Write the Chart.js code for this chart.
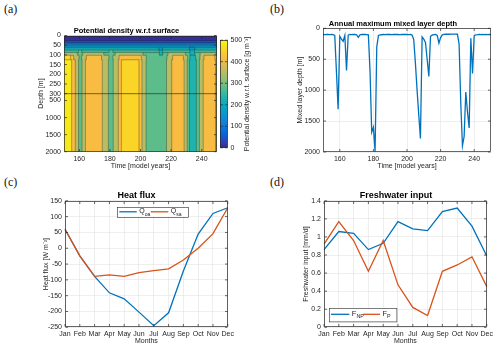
<!DOCTYPE html>
<html>
<head>
<meta charset="utf-8">
<title>Convection diagnostics</title>
<script src="https://cdn.jsdelivr.net/npm/chart.js@4.4.1/dist/chart.umd.min.js"></script>
<style>
  body { margin: 0; background: #fff; }
  #page { position: relative; width: 500px; height: 348px; overflow: hidden; }
  canvas { position: absolute; }
  .panel { position: absolute; font-family: "Liberation Serif", "DejaVu Serif", serif; font-size: 12px; color: #111; }
</style>
</head>
<body>
<div id="page">
  <div class="panel" style="left:4px;top:2px">(a)</div>
  <div class="panel" style="left:270px;top:2px">(b)</div>
  <div class="panel" style="left:4px;top:175px">(c)</div>
  <div class="panel" style="left:270px;top:175px">(d)</div>
  <canvas id="densChart" width="186" height="151" style="left:36px;top:20px"></canvas>
  <canvas id="cbarChart" width="40" height="122" style="left:218px;top:33px"></canvas>
  <canvas id="mldChart" width="200" height="156" style="left:295px;top:15px"></canvas>
  <canvas id="heatChart" width="196" height="161" style="left:41px;top:185px"></canvas>
  <canvas id="fwChart" width="195" height="161" style="left:301px;top:185px"></canvas>
</div>
<script>
// ---- (a) potential density, one row per depth layer ----
// each row is a list of [start year, density g/m3], value holds until next start
const yearMin = 150, yearMax = 250;
const yearTicks = [160, 180, 200, 220, 240];
const depthEdges = [0, 26, 36, 45, 54, 63, 75, 88, 102, 125, 2000];
const depthTicks = [0, 50, 100, 150, 200, 250, 300, 500, 1000, 1500, 2000];
const dens0 = [[150, 8]];
const dens1 = [[150, 35]];
const dens2 = [[150, 80]];
const dens3 = [[150, 130]];
const dens4 = [[150, 175], [232.5, 150], [234.5, 175]];
const dens5 = [[150, 215], [212, 180], [214.5, 215], [232, 180], [235.5, 215]];
const dens6 = [[150, 250], [159.5, 280], [161.5, 250], [179.5, 280], [182, 250], [212.3, 215], [214.3, 250], [232.3, 215], [235.3, 250]];
const dens7 = [[150, 350], [158.7, 280], [162.3, 350], [176, 280], [183.5, 350], [201.5, 280], [212.3, 215], [214.5, 280], [218, 350], [229.3, 280], [232.3, 215], [235.5, 280], [239, 350], [249.3, 280]];
const dens8 = [[150, 455], [154.3, 415], [156.3, 350], [159.8, 280], [161.5, 350], [164.6, 415], [174.5, 350], [179.3, 280], [182, 350], [186, 415], [200.5, 350], [203.8, 280], [217.3, 350], [221, 415], [228, 350], [230.8, 280], [232.3, 230], [236, 280], [238.8, 350], [241.5, 415], [248.6, 350]];
const dens9 = [[150, 480], [155, 415], [157.4, 350], [159.5, 280], [161.8, 350], [164, 415], [175, 350], [179, 280], [182.2, 350], [185.5, 415], [187.5, 455], [199, 415], [201, 350], [203.6, 280], [217, 350], [220.4, 415], [228.5, 350], [230.5, 280], [232, 230], [236.5, 280], [238.5, 350], [241, 415], [249, 350]];
const densRows = [dens0, dens1, dens2, dens3, dens4, dens5, dens6, dens7, dens8, dens9];

// ---- (b) annual maximum mixed layer depth, years 150..250 ----
const mldYear0 = 150;
const mld = [100, 101, 100, 99, 101, 100, 102, 115, 700, 1310,
             130, 175, 210, 115, 680, 110, 100, 101, 100, 100,
             104, 145, 106, 100, 99, 100, 101, 105, 700, 1680,
             1600, 1990, 300, 115, 108, 104, 100, 101, 100, 99,
             100, 102, 100, 100, 98, 100, 101, 100, 99, 100,
             100, 101, 100, 110, 180, 560, 1000, 1400, 1780, 140,
             175, 230, 500, 780, 130, 110, 102, 100, 115, 240,
             150, 105, 98, 96, 95, 96, 94, 95, 93, 95,
             96, 250, 1200, 1900, 1750, 1030, 1350, 1610, 160, 730,
             120, 105, 103, 100, 102, 99, 101, 100, 103, 100, 102];

// ---- (c) heat flux, (d) freshwater input ----
const months = ['Jan', 'Feb', 'Mar', 'Apr', 'May', 'Jun', 'Jul', 'Aug', 'Sep', 'Oct', 'Nov', 'Dec'];
const qOA = [60, -24, -89, -141, -160, -202, -245, -204, -72, 45, 110, 128];
const qSA = [60, -24, -89, -84, -89, -77, -71, -65, -37, 0, 46, 128];
const fNP = [0.86, 1.06, 1.04, 0.86, 0.93, 1.17, 1.09, 1.07, 1.28, 1.32, 1.12, 0.79];
const fP = [0.92, 1.17, 0.96, 0.62, 0.96, 0.47, 0.22, 0.13, 0.62, 0.69, 0.78, 0.45];

const FONT = '"Liberation Sans", Arial, Helvetica, sans-serif';
const INK = '#262626';
const GRID = '#e2e2e2';
const BLUE = '#0072BD', ORANGE = '#D95319';

Chart.defaults.font.family = FONT;
Chart.defaults.font.size = 7;
Chart.defaults.color = INK;
Chart.defaults.animation = false;
Chart.defaults.responsive = false;
Chart.defaults.maintainAspectRatio = false;
Chart.defaults.plugins.legend.display = false;
Chart.defaults.plugins.tooltip.enabled = false;
Chart.defaults.events = [];

// parula colour map (MATLAB), rows 0,4,...,60,63 of the 64 entry table
const parulaIdx = [0, 4, 8, 12, 16, 20, 24, 28, 32, 36, 40, 44, 48, 52, 56, 60, 63];
const parulaRgb = [[53,42,135],[50,67,186],[3,99,225],[13,117,220],[20,133,212],[9,152,209],[6,167,198],[21,177,180],[56,185,158],[101,190,134],[146,191,115],[183,189,100],[217,186,86],[248,187,68],[252,206,46],[245,228,29],[249,251,14]];
function parula(t) {
  t = Math.max(0, Math.min(1, t)) * 63;
  let k = 0;
  while (k < parulaIdx.length - 2 && t > parulaIdx[k + 1]) k++;
  const f = (t - parulaIdx[k]) / (parulaIdx[k + 1] - parulaIdx[k]);
  const a = parulaRgb[k], b = parulaRgb[k + 1];
  return 'rgb(' + a.map((c, j) => Math.round(c + (b[j] - c) * f)).join(',') + ')';
}
const densMax = 500;

// depth axis: 0-300 m stretched, 300-2000 m compressed
const deepScale = 0.176;
function depthDisp(d) { return d <= 300 ? d : 300 + (d - 300) * deepScale; }

function valAt(segs, yr) {
  let v = segs[0][1];
  for (const s of segs) if (s[0] <= yr) v = s[1];
  return v;
}

const fixW = w => s => { s.width = w; };
const fixH = h => s => { s.height = h; };
const noGrid = { display: false, drawTicks: false };
const lightGrid = { color: GRID, lineWidth: 0.6, drawTicks: false };

function titleOpt(text, size) {
  return { display: true, text: text, color: '#000', font: { size: size, weight: 'bold', lineHeight: 1 }, padding: { top: 0, bottom: 1 } };
}
function axTitle(text) {
  return { display: true, text: text, font: { size: 7, lineHeight: 1.2 }, padding: { top: 1, bottom: 1.1 } };
}

// matlab style box with inward ticks
const frame = {
  id: 'frame',
  afterDraw(chart) {
    const { ctx, chartArea: a } = chart;
    const L = Math.round(a.left) + 0.5, R = Math.round(a.right) - 0.5;
    const T = Math.round(a.top) + 0.5, B = Math.round(a.bottom) - 0.5;
    const sx = chart.scales.x, sy = chart.scales.y;
    ctx.save();
    ctx.strokeStyle = INK;
    ctx.lineWidth = 0.7;
    ctx.beginPath();
    if (sx && sx.options.display !== false) {
      sx.ticks.forEach((t, i) => {
        const p = sx.getPixelForTick(i);
        ctx.moveTo(p, B); ctx.lineTo(p, B - 2.5);
        ctx.moveTo(p, T); ctx.lineTo(p, T + 2.5);
      });
    }
    if (sy) {
      sy.ticks.forEach((t, i) => {
        const p = sy.getPixelForTick(i);
        ctx.moveTo(L, p); ctx.lineTo(L + 2.5, p);
        ctx.moveTo(R, p); ctx.lineTo(R - 2.5, p);
      });
    }
    ctx.stroke();
    ctx.strokeRect(L, T, R - L, B - T);
    ctx.restore();
  }
};

// filled density layers + contour lines where the value changes
const densityCells = {
  id: 'densityCells',
  beforeDatasetsDraw(chart) {
    const { ctx, chartArea: a, scales: { x, y } } = chart;
    const yPx = d => y.getPixelForValue(depthDisp(d));
    ctx.save();
    ctx.beginPath();
    ctx.rect(a.left, a.top, a.right - a.left, a.bottom - a.top);
    ctx.clip();
    densRows.forEach((segs, r) => {
      const y0 = yPx(depthEdges[r]), y1 = yPx(depthEdges[r + 1]);
      segs.forEach((s, i) => {
        const x0 = x.getPixelForValue(s[0]);
        const x1 = x.getPixelForValue(i + 1 < segs.length ? segs[i + 1][0] : yearMax);
        ctx.fillStyle = parula(s[1] / densMax);
        ctx.fillRect(x0, y0, x1 - x0 + 0.6, y1 - y0 + 0.6);
      });
    });
    ctx.strokeStyle = 'rgba(25,25,25,0.55)';
    ctx.lineWidth = 0.6;
    ctx.beginPath();
    densRows.forEach((segs, r) => {
      const y0 = yPx(depthEdges[r]), y1 = yPx(depthEdges[r + 1]);
      for (let i = 1; i < segs.length; i++) {
        if (segs[i][1] !== segs[i - 1][1]) {
          const px = x.getPixelForValue(segs[i][0]);
          ctx.moveTo(px, y0); ctx.lineTo(px, y1);
        }
      }
      if (r + 1 < densRows.length) {
        const next = densRows[r + 1];
        const cuts = segs.map(s => s[0]).concat(next.map(s => s[0]), [yearMax]);
        cuts.sort((p, q) => p - q);
        const yy = yPx(depthEdges[r + 1]);
        for (let i = 0; i + 1 < cuts.length; i++) {
          const mid = (cuts[i] + cuts[i + 1]) / 2;
          if (cuts[i + 1] > cuts[i] && valAt(segs, mid) !== valAt(next, mid)) {
            ctx.moveTo(x.getPixelForValue(cuts[i]), yy);
            ctx.lineTo(x.getPixelForValue(cuts[i + 1]), yy);
          }
        }
      }
    });
    ctx.stroke();
    // break between the two depth ranges
    ctx.strokeStyle = 'rgba(40,40,40,0.8)';
    ctx.lineWidth = 0.8;
    ctx.beginPath();
    ctx.moveTo(a.left, yPx(300)); ctx.lineTo(a.right, yPx(300));
    ctx.stroke();
    ctx.restore();
  }
};

const colorbar = {
  id: 'colorbar',
  beforeDatasetsDraw(chart) {
    const { ctx, chartArea: a, scales: { y } } = chart;
    const g = ctx.createLinearGradient(0, y.getPixelForValue(0), 0, y.getPixelForValue(densMax));
    for (let k = 0; k <= 20; k++) g.addColorStop(k / 20, parula(k / 20));
    ctx.save();
    ctx.fillStyle = g;
    ctx.fillRect(a.left, a.top, a.right - a.left, a.bottom - a.top);
    ctx.translate(a.right + 20, (a.top + a.bottom) / 2);
    ctx.rotate(-Math.PI / 2);
    ctx.fillStyle = INK;
    ctx.font = '7px ' + FONT;
    ctx.textAlign = 'center';
    ctx.textBaseline = 'middle';
    ctx.fillText('Potential density w.r.t. surface [g m\u207B\u00B3]', 0, 0);
    ctx.restore();
  }
};

// legend with subscripted labels ("Q_oa" -> Q + subscript oa)
const subLegend = {
  id: 'subLegend',
  afterDraw(chart, args, o) {
    const { ctx, chartArea: a } = chart;
    const x0 = a.left + o.dx;
    const y0 = o.fromBottom ? a.bottom - o.dy - o.h : a.top + o.dy;
    const cy = y0 + o.h / 2;
    ctx.save();
    ctx.fillStyle = '#fff';
    ctx.fillRect(x0, y0, o.w, o.h);
    ctx.strokeStyle = INK;
    ctx.lineWidth = 0.6;
    ctx.strokeRect(Math.round(x0) + 0.5, Math.round(y0) + 0.5, o.w, o.h);
    chart.data.datasets.forEach((ds, k) => {
      const pos = o.pos[k];
      const parts = ds.label.split('_');
      ctx.strokeStyle = ds.borderColor;
      ctx.lineWidth = ds.borderWidth;
      ctx.beginPath();
      ctx.moveTo(x0 + pos[0], cy); ctx.lineTo(x0 + pos[1], cy);
      ctx.stroke();
      ctx.fillStyle = INK;
      ctx.textBaseline = 'middle';
      ctx.font = o.size + 'px ' + FONT;
      const tx = x0 + pos[1] + 2.5;
      ctx.fillText(parts[0], tx, cy - 0.5);
      const w = ctx.measureText(parts[0]).width;
      ctx.font = (o.size * 0.72) + 'px ' + FONT;
      ctx.fillText(parts[1], tx + w, cy + o.size * 0.35);
    });
    ctx.restore();
  }
};

const yearAxis = {
  type: 'linear', min: yearMin, max: yearMax,
  afterBuildTicks: s => { s.ticks = yearTicks.map(v => ({ value: v })); },
  ticks: { padding: 3 },
  border: { display: false },
  title: axTitle('Time [model years]')
};

new Chart(document.getElementById('densChart'), {
  type: 'scatter',
  data: { datasets: [] },
  options: {
    layout: { padding: { left: 0, right: 5, top: 7, bottom: 0 } },
    plugins: { title: titleOpt('Potential density w.r.t surface', 7.5) },
    scales: {
      x: Object.assign({}, yearAxis, { grid: noGrid, afterFit: fixH(19.3) }),
      y: {
        type: 'linear', reverse: true, min: 0, max: depthDisp(2000),
        afterBuildTicks: s => { s.ticks = depthTicks.map(d => ({ value: depthDisp(d) })); },
        ticks: { autoSkip: false, padding: 3, callback: (v, i) => String(depthTicks[i]) },
        grid: noGrid,
        border: { display: false },
        title: axTitle('Depth [m]'),
        afterFit: fixW(28)
      }
    }
  },
  plugins: [densityCells, frame]
});

new Chart(document.getElementById('cbarChart'), {
  type: 'scatter',
  data: { datasets: [] },
  options: {
    layout: { padding: { left: 2, right: 0, top: 2.5, bottom: 3.3 } },
    scales: {
      x: { display: false, min: 0, max: 1 },
      y: {
        position: 'right', min: 0, max: densMax,
        ticks: { stepSize: 100, padding: 3, callback: v => String(v) },
        grid: noGrid,
        border: { display: false },
        afterFit: fixW(30.5)
      }
    }
  },
  plugins: [colorbar, frame]
});

new Chart(document.getElementById('mldChart'), {
  type: 'line',
  data: {
    datasets: [{
      data: mld.map((v, i) => ({ x: mldYear0 + i, y: v })),
      borderColor: BLUE, borderWidth: 1.3, pointRadius: 0, tension: 0
    }]
  },
  options: {
    layout: { padding: { left: 0, right: 4, top: 4.8, bottom: 0 } },
    plugins: { title: titleOpt('Annual maximum mixed layer depth', 7.5) },
    scales: {
      x: Object.assign({}, yearAxis, { grid: lightGrid, afterFit: fixH(19) }),
      y: {
        reverse: true, min: 0, max: 2000,
        ticks: { stepSize: 500, padding: 3, callback: v => String(v) },
        grid: lightGrid,
        border: { display: false },
        title: axTitle('Mixed layer depth [m]'),
        afterFit: fixW(28)
      }
    }
  },
  plugins: [frame]
});

new Chart(document.getElementById('heatChart'), {
  type: 'line',
  data: {
    labels: months,
    datasets: [
      { label: 'Q_oa', data: qOA, borderColor: BLUE, borderWidth: 1.3, pointRadius: 0, tension: 0, order: 1 },
      { label: 'Q_sa', data: qSA, borderColor: ORANGE, borderWidth: 1.3, pointRadius: 0, tension: 0, order: 0 }
    ]
  },
  options: {
    layout: { padding: { left: 0, right: 5, top: 5.8, bottom: 0 } },
    plugins: {
      title: titleOpt('Heat flux', 9),
      subLegend: { dx: 52, dy: 6, w: 71, h: 10, size: 7, pos: [[2.3, 19.7], [33.7, 51.3]] }
    },
    scales: {
      x: {
        type: 'category', offset: false,
        ticks: { padding: 3, autoSkip: false, maxRotation: 0 },
        grid: Object.assign({ offset: false }, lightGrid),
        border: { display: false },
        title: axTitle('Months'),
        afterFit: fixH(18.7)
      },
      y: {
        min: -250, max: 150,
        ticks: { stepSize: 50, padding: 3, callback: v => String(v) },
        grid: lightGrid,
        border: { display: false },
        title: axTitle('Heat flux [W m\u207B\u00B2]'),
        afterFit: fixW(24)
      }
    }
  },
  plugins: [frame, subLegend]
});

new Chart(document.getElementById('fwChart'), {
  type: 'line',
  data: {
    labels: months,
    datasets: [
      { label: 'F_NP', data: fNP, borderColor: BLUE, borderWidth: 1.3, pointRadius: 0, tension: 0, order: 1 },
      { label: 'F_P', data: fP, borderColor: ORANGE, borderWidth: 1.3, pointRadius: 0, tension: 0, order: 0 }
    ]
  },
  options: {
    layout: { padding: { left: 0, right: 5, top: 5.8, bottom: 0 } },
    plugins: {
      title: titleOpt('Freshwater input', 9),
      subLegend: { dx: 5.3, dy: 6.3, fromBottom: true, w: 67.4, h: 13.4, size: 7.5, pos: [[1.7, 20], [33.4, 50.7]] }
    },
    scales: {
      x: {
        type: 'category', offset: false,
        ticks: { padding: 3, autoSkip: false, maxRotation: 0 },
        grid: Object.assign({ offset: false }, lightGrid),
        border: { display: false },
        title: axTitle('Months'),
        afterFit: fixH(18.7)
      },
      y: {
        min: 0, max: 1.4,
        ticks: { stepSize: 0.2, padding: 3, callback: v => String(Math.round(v * 10) / 10) },
        grid: lightGrid,
        border: { display: false },
        title: axTitle('Freshwater input [mm/d]'),
        afterFit: fixW(23)
      }
    }
  },
  plugins: [frame, subLegend]
});
</script>
</body>
</html>
